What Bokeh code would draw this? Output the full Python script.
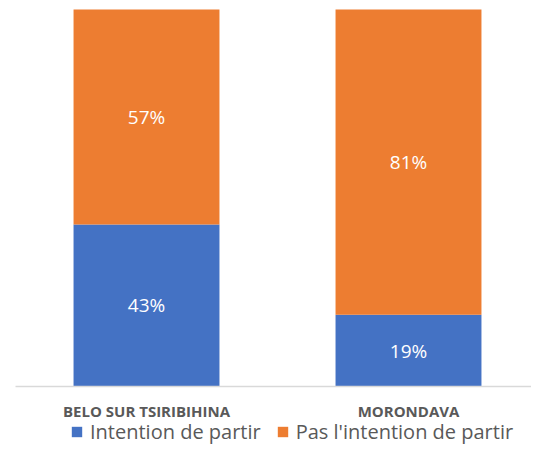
from bokeh.plotting import figure
from bokeh.models import ColumnDataSource, Range1d, Legend, LegendItem
from bokeh.core.properties import value
from bokeh.embed import file_html
from bokeh.resources import INLINE

# Data
categories = ["BELO SUR TSIRIBIHINA", "MORONDAVA"]
intention = [0.43, 0.19]
pas_intention = [0.57, 0.81]
series_names = ["Intention de partir", "Pas l'intention de partir"]
colors = ["#4472C4", "#ED7D31"]

idx = list(range(len(categories)))
source = ColumnDataSource(dict(
    x=idx,
    cat=categories,
    s1=intention,
    s2=pas_intention,
))

p = figure(
    x_range=Range1d(-0.5573, 1.4695),
    y_range=Range1d(-0.1565, 1.0239),
    width=531, height=445,
    output_backend="svg", toolbar_location=None,
    min_border_left=0, min_border_right=0, min_border_top=0, min_border_bottom=0,
)
p.xaxis.visible = False
p.yaxis.visible = False
p.outline_line_color = None
p.xgrid.grid_line_color = None
p.ygrid.grid_line_color = None

rs = p.vbar_stack(["s1", "s2"], x="x", width=0.557, source=source,
                  color=colors, line_color=None)

# Category axis line
p.segment(x0=[-0.5], y0=[0], x1=[len(categories) - 0.5], y1=[0],
          line_color="#D9D9D9", line_width=1.5)

# Category labels
p.text(x=idx, y=[-0.0663] * len(categories), text=categories,
       text_color="#595959", text_font=value("Open Sans"), text_font_style="bold",
       text_font_size="15px", text_align="center", text_baseline="middle")

# Data labels
lab_x, lab_y, lab_t = [], [], []
for i, a, b in zip(idx, intention, pas_intention):
    lab_x += [i, i]
    lab_y += [a / 2, a + b / 2]
    lab_t += [f"{round(a*100)}%", f"{round(b*100)}%"]
p.text(x=lab_x, y=lab_y, text=lab_t, text_color="white", text_font=value("Open Sans"),
       text_font_size="19px", text_align="center", text_baseline="middle")

legend = Legend(items=[LegendItem(label=series_names[0], renderers=[rs[0]]),
                       LegendItem(label=series_names[1], renderers=[rs[1]])],
                orientation="horizontal", location=(70, 0),
                padding=0, margin=0, spacing=15,
                glyph_width=13, glyph_height=13, label_standoff=7,
                label_text_font="Open Sans", label_text_font_size="20px",
                label_text_color="#595959", label_height=20,
                border_line_color=None, background_fill_alpha=0)
p.add_layout(legend, "center")

open("out.html", "w").write(file_html(p, INLINE))
